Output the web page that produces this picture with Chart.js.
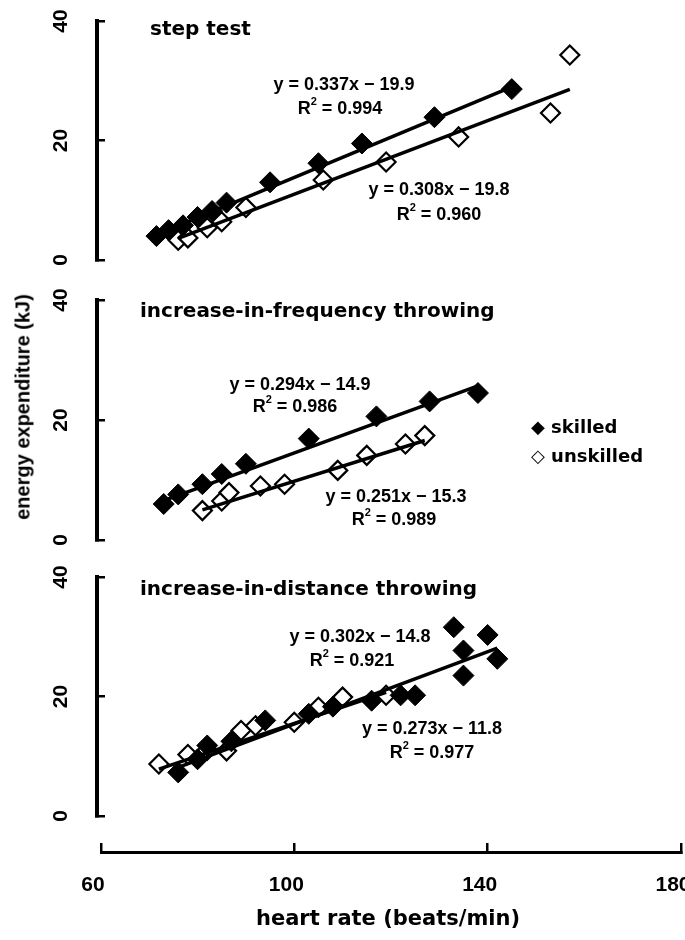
<!DOCTYPE html>
<html>
<head>
<meta charset="utf-8">
<script src="https://cdn.jsdelivr.net/npm/chart.js@4.4.0/dist/chart.umd.min.js"></script>
<style>
  body { margin: 0; background: #fff; }
  #wrap { position: relative; width: 685px; height: 940px; overflow: hidden; background: #fff; }
  canvas { position: absolute; left: 0; }
  .txt { position: absolute; color: #000; white-space: nowrap; }
  #ytitle { left: 23px; top: 407px; transform: translate(-50%, -50%) rotate(-90deg); font: bold 20px "Liberation Sans", Arial, sans-serif; }
  #xtitle { left: 388px; top: 918px; transform: translate(-50%, -50%); font: bold 21px "DejaVu Sans", sans-serif; }
  #legend { left: 531px; top: 412px; font: bold 18px "DejaVu Sans", sans-serif; line-height: 29px; }
</style>
</head>
<body>
<div id="wrap">
  <canvas id="p1"></canvas>
  <canvas id="p2"></canvas>
  <canvas id="p3"></canvas>
  <canvas id="xa"></canvas>
  <div id="ytitle" class="txt">energy expenditure (kJ)</div>
  <div id="xtitle" class="txt">heart rate (beats/min)</div>
  <div id="legend" class="txt">◆ skilled<br>◇ unskilled</div>
</div>
<script>
// step test
const stepSkilledHR = [71.5, 74, 77, 80, 83, 86, 95, 105, 114, 129, 145];
const stepSkilledEE = [4.0, 5.0, 5.8, 7.2, 8.2, 9.6, 13.0, 16.2, 19.5, 23.9, 28.6];
const stepUnskilledHR = [76, 78, 82, 85, 90, 106, 119, 134, 153, 157];
const stepUnskilledEE = [3.3, 3.7, 5.4, 6.4, 8.8, 13.4, 16.4, 20.6, 24.6, 34.3];
const stepSlopes = [0.337, 0.308], stepIntercepts = [-19.9, -19.8], stepR2 = [0.994, 0.960];

// increase-in-frequency throwing
const freqSkilledHR = [73, 76, 81, 85, 90, 103, 117, 128, 138];
const freqSkilledEE = [6.0, 7.6, 9.3, 11.0, 12.7, 16.9, 20.6, 23.1, 24.5];
const freqUnskilledHR = [81, 85, 86.5, 93, 98, 109, 115, 123, 127];
const freqUnskilledEE = [4.9, 6.5, 7.9, 9.0, 9.3, 11.6, 14.1, 16.0, 17.4];
const freqSlopes = [0.294, 0.251], freqIntercepts = [-14.9, -15.3], freqR2 = [0.986, 0.989];

// increase-in-distance throwing
const distSkilledHR = [76, 80, 82, 87, 94, 103, 108, 116, 122, 125, 133, 135, 135, 140, 142];
const distSkilledEE = [7.3, 9.5, 11.8, 12.5, 16.0, 17.1, 18.3, 19.3, 20.2, 20.2, 31.6, 27.7, 23.5, 30.3, 26.3];
const distUnskilledHR = [72, 78, 82, 86, 89, 92, 100, 105, 110, 119];
const distUnskilledEE = [8.7, 10.3, 11.0, 10.9, 14.3, 15.1, 15.7, 18.2, 19.9, 20.2];
const distSlopes = [0.302, 0.273], distIntercepts = [-14.8, -11.8], distR2 = [0.921, 0.977];

const xTicks = [60, 100, 140, 180];
const yTicks = [0, 20, 40];

const SANS = '"Liberation Sans", Arial, sans-serif';
Chart.defaults.font.family = SANS;
Chart.defaults.color = '#000';

const EQ_FONT = 'bold 18px ' + SANS;
const SUP_FONT = 'bold 11px ' + SANS;
const TITLE_FONT = 'bold 20px "DejaVu Sans", sans-serif';

const pts = (xs, ys) => xs.map((x, i) => ({ x, y: ys[i] }));
const fitLine = (xs, m, b) => {
  const lo = Math.min(...xs), hi = Math.max(...xs);
  return [{ x: lo, y: m * lo + b }, { x: hi, y: m * hi + b }];
};
const eqText = (m, b) => `y = ${m.toFixed(3)}x \u2212 ${Math.abs(b).toFixed(1)}`;

// text on the panels (equations, panel titles)
const notesPlugin = {
  id: 'notes',
  afterDatasetsDraw(chart, args, opts) {
    const ctx = chart.ctx;
    ctx.save();
    ctx.fillStyle = '#000';
    ctx.textBaseline = 'middle';
    (opts.items || []).forEach(n => {
      const y = n.y - opts.top;
      if (n.r2 !== undefined) {
        const rest = ` = ${n.r2.toFixed(3)}`;
        ctx.font = EQ_FONT;
        const wR = ctx.measureText('R').width, wRest = ctx.measureText(rest).width;
        ctx.font = SUP_FONT;
        const wS = ctx.measureText('2').width;
        let x = n.x - (wR + wS + wRest) / 2;
        ctx.textAlign = 'left';
        ctx.font = EQ_FONT; ctx.fillText('R', x, y); x += wR;
        ctx.font = SUP_FONT; ctx.fillText('2', x, y - 7); x += wS;
        ctx.font = EQ_FONT; ctx.fillText(rest, x, y);
      } else {
        ctx.font = n.font || EQ_FONT;
        ctx.textAlign = n.align || 'center';
        ctx.fillText(n.text, n.x, y);
      }
    });
    ctx.restore();
  }
};

function makePanel(id, areaTop, areaBottom, skilled, unskilled, slopes, icpts, notes) {
  const pad = 16;
  const cv = document.getElementById(id);
  cv.width = 685;
  cv.height = areaBottom - areaTop + 2 * pad;
  cv.style.top = (areaTop - pad) + 'px';
  const top = areaTop - pad;
  return new Chart(cv, {
    type: 'scatter',
    data: {
      datasets: [
        { label: 'fit skilled', data: fitLine(skilled[0], slopes[0], icpts[0]), showLine: true, pointRadius: 0, borderColor: '#000', borderWidth: 3.5, order: 0 },
        { label: 'fit unskilled', data: fitLine(unskilled[0], slopes[1], icpts[1]), showLine: true, pointRadius: 0, borderColor: '#000', borderWidth: 3.5, order: 0 },
        { label: 'unskilled', data: pts(unskilled[0], unskilled[1]), pointStyle: 'rectRot', pointRadius: 9.5, backgroundColor: '#fff', borderColor: '#000', borderWidth: 2.2, order: 2 },
        { label: 'skilled', data: pts(skilled[0], skilled[1]), pointStyle: 'rectRot', pointRadius: 10.5, backgroundColor: '#000', borderColor: '#000', borderWidth: 1, order: 1 }
      ]
    },
    options: {
      responsive: false,
      animation: false,
      events: [],
      layout: { autoPadding: false, padding: { top: pad, bottom: pad, left: 0, right: 4 } },
      plugins: {
        legend: { display: false },
        tooltip: { enabled: false },
        notes: { top, items: notes }
      },
      scales: {
        // hidden; the bracket sits 4px left of the x=60 tick of the shared axis below
        x: { type: 'linear', min: 59.2, max: 180, display: false },
        y: {
          min: 0, max: 40,
          afterBuildTicks: s => { s.ticks = yTicks.map(v => ({ value: v })); },
          afterFit: s => { s.width = 97; s.paddingTop = 0; s.paddingBottom = 0; },
          border: { color: '#000', width: 4 },
          grid: { drawOnChartArea: false, color: '#000', lineWidth: 2.5, tickLength: -8 },
          ticks: { minRotation: 90, maxRotation: 90, crossAlign: 'center', padding: 32, color: '#000', font: { family: SANS, size: 21, weight: 'bold' } }
        }
      }
    },
    plugins: [notesPlugin]
  });
}

makePanel('p1', 21, 260, [stepSkilledHR, stepSkilledEE], [stepUnskilledHR, stepUnskilledEE], stepSlopes, stepIntercepts, [
  { text: 'step test', x: 150, y: 30, font: TITLE_FONT, align: 'left' },
  { text: eqText(stepSlopes[0], stepIntercepts[0]), x: 344, y: 85 },
  { r2: stepR2[0], x: 340, y: 109 },
  { text: eqText(stepSlopes[1], stepIntercepts[1]), x: 439, y: 190 },
  { r2: stepR2[1], x: 439, y: 215 }
]);

makePanel('p2', 300, 540, [freqSkilledHR, freqSkilledEE], [freqUnskilledHR, freqUnskilledEE], freqSlopes, freqIntercepts, [
  { text: 'increase-in-frequency throwing', x: 140, y: 312, font: TITLE_FONT, align: 'left' },
  { text: eqText(freqSlopes[0], freqIntercepts[0]), x: 300, y: 385 },
  { r2: freqR2[0], x: 295, y: 407 },
  { text: eqText(freqSlopes[1], freqIntercepts[1]), x: 396, y: 497 },
  { r2: freqR2[1], x: 394, y: 520 }
]);

makePanel('p3', 577, 816, [distSkilledHR, distSkilledEE], [distUnskilledHR, distUnskilledEE], distSlopes, distIntercepts, [
  { text: 'increase-in-distance throwing', x: 140, y: 590, font: TITLE_FONT, align: 'left' },
  { text: eqText(distSlopes[0], distIntercepts[0]), x: 360, y: 637 },
  { r2: distR2[0], x: 352, y: 661 },
  { text: eqText(distSlopes[1], distIntercepts[1]), x: 432, y: 729 },
  { r2: distR2[1], x: 432, y: 753 }
]);

// shared heart-rate axis
const xa = document.getElementById('xa');
xa.width = 685; xa.height = 110; xa.style.top = '830px';
new Chart(xa, {
  type: 'scatter',
  data: { datasets: [] },
  options: {
    responsive: false,
    animation: false,
    events: [],
    layout: { autoPadding: false, padding: { top: 10, bottom: 0, left: 101, right: 4 } },
    plugins: { legend: { display: false }, tooltip: { enabled: false } },
    scales: {
      y: { display: false, min: 0, max: 1 },
      x: {
        type: 'linear', position: 'bottom', min: 60, max: 180,
        afterBuildTicks: s => { s.ticks = xTicks.map(v => ({ value: v })); },
        afterFit: s => { s.height = 88; s.paddingLeft = 0; s.paddingRight = 0; },
        border: { color: '#000', width: 3 },
        grid: { drawOnChartArea: false, color: '#000', lineWidth: 2.5, tickLength: -9 },
        ticks: { maxRotation: 0, labelOffset: -8, padding: 30, color: '#000', font: { family: SANS, size: 21, weight: 'bold' } }
      }
    }
  }
});
</script>
</body>
</html>
